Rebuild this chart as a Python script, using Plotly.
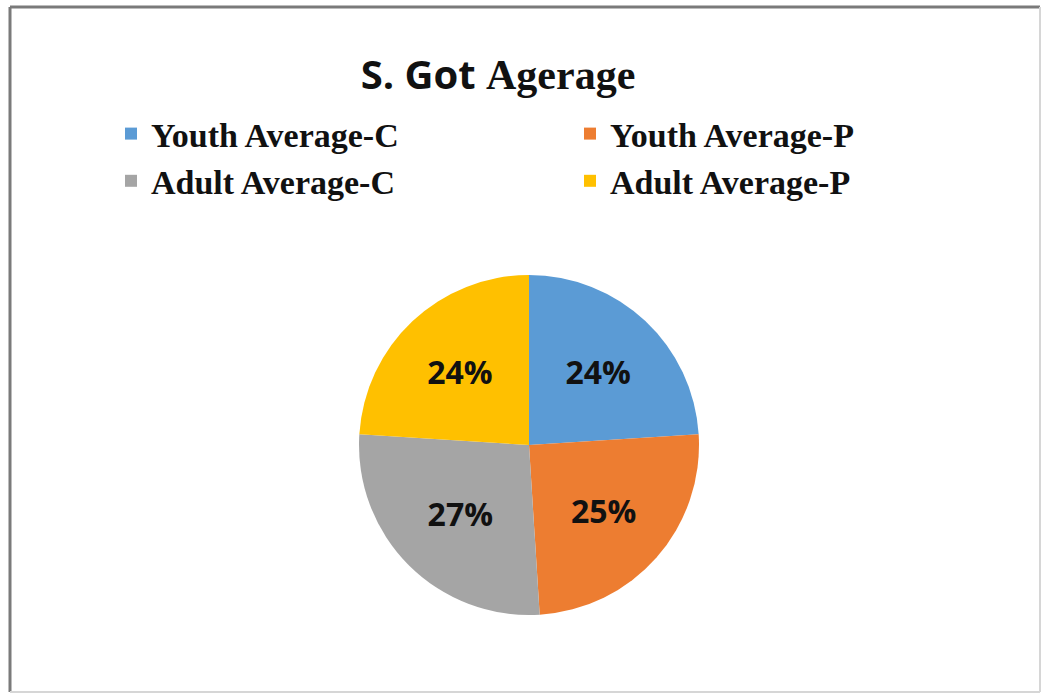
import plotly.graph_objects as go

categories = ["Youth Average-C", "Youth Average-P", "Adult Average-C", "Adult Average-P"]
values = [24, 25, 27, 24]
colors = ["#5B9BD5", "#ED7D31", "#A5A5A5", "#FFC000"]

W, H = 1043, 699

fig = go.Figure(
    go.Pie(
        labels=categories,
        values=values,
        sort=False,
        direction="clockwise",
        rotation=0,
        marker=dict(colors=colors, line=dict(color="white", width=0)),
        textinfo="percent",
        textposition="inside",
        insidetextorientation="horizontal",
        textfont=dict(family="Open Sans", size=32, color="#111111", weight="bold"),
        domain=dict(x=[(529 - 170) / W, (529 + 170) / W],
                    y=[(H - 445 - 170) / H, (H - 445 + 170) / H]),
        showlegend=True,
    )
)

fig.update_layout(
    width=W,
    height=H,
    margin=dict(l=0, r=0, t=0, b=0),
    paper_bgcolor="white",
    title=dict(
        text="<span style='font-family:\"Open Sans\"; font-size:40px'><b>S. Got</b></span> "
             "<span style='font-family:\"Liberation Serif\"; font-size:42px'><b>Agerage</b></span>",
        x=498 / W,
        xanchor="center",
        y=1 - 75 / H,
        yanchor="middle",
        font=dict(size=40, color="#111111", family="Open Sans"),
    ),
    legend=dict(
        orientation="h",
        x=111 / W,
        xanchor="left",
        y=1 - 105 / H,
        yanchor="top",
        entrywidth=414,
        entrywidthmode="pixels",
        font=dict(family="Liberation Serif", size=34, color="#111111", weight="bold"),
        itemsizing="constant",
        tracegroupgap=0,
    ),
    shapes=[
        dict(type="line", xref="paper", yref="paper", x0=10 / W, x1=10 / W,
             y0=(H - 692) / H, y1=(H - 7) / H, line=dict(color="#7a7a7a", width=3)),
        dict(type="line", xref="paper", yref="paper", x0=10 / W, x1=1040 / W,
             y0=(H - 7) / H, y1=(H - 7) / H, line=dict(color="#7a7a7a", width=3)),
        dict(type="line", xref="paper", yref="paper", x0=1040 / W, x1=1040 / W,
             y0=(H - 692) / H, y1=(H - 7) / H, line=dict(color="#d6d6d6", width=2)),
        dict(type="line", xref="paper", yref="paper", x0=10 / W, x1=1040 / W,
             y0=(H - 692) / H, y1=(H - 692) / H, line=dict(color="#d6d6d6", width=2)),
    ],
)

fig.write_html(
    "out.html",
    config={"displayModeBar": False},
    post_script="document.body.style.margin='0';document.body.style.overflow='hidden';",
)
